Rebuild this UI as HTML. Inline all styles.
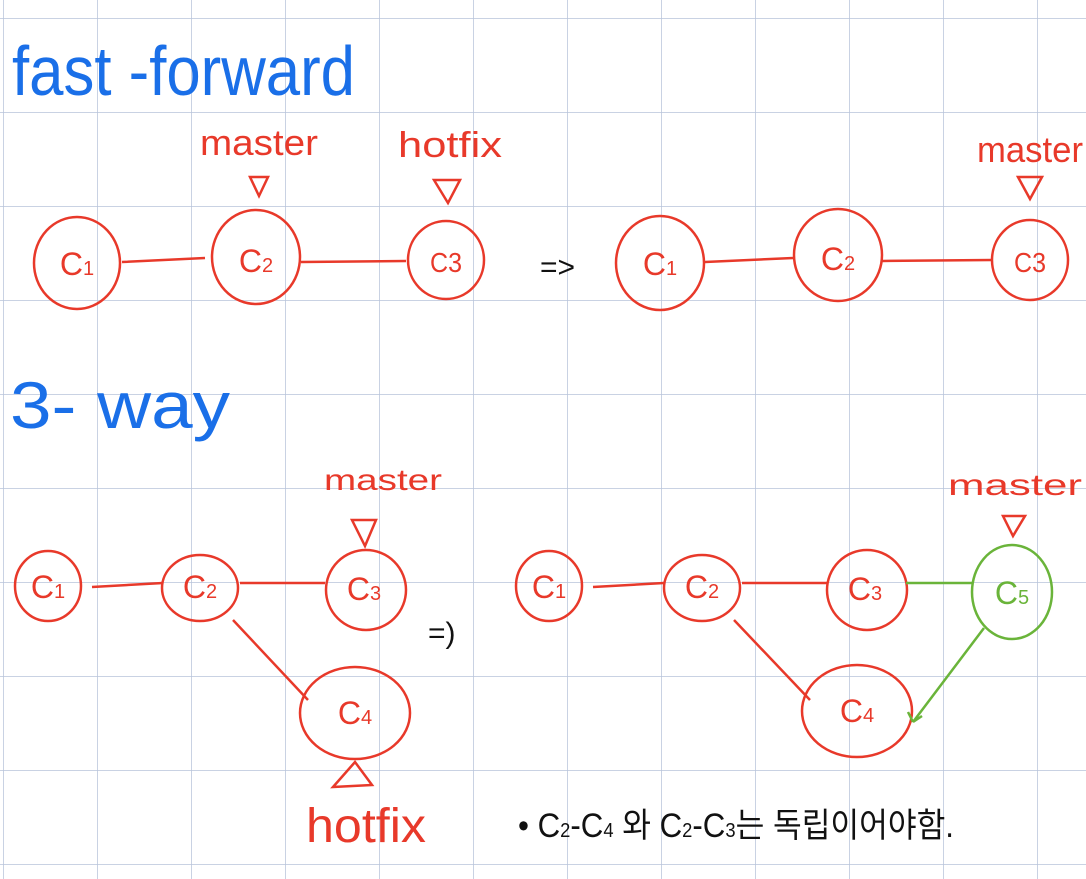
<!DOCTYPE html>
<html><head><meta charset="utf-8"><style>
html,body{margin:0;padding:0;background:#fff}
svg{display:block}
text{font-family:"Liberation Sans","Noto Sans CJK KR",sans-serif}
</style></head><body>
<svg width="1086" height="879" viewBox="0 0 1086 879" xmlns="http://www.w3.org/2000/svg">
<defs>
<pattern id="g" x="3" y="18" width="94" height="94" patternUnits="userSpaceOnUse">
<path d="M0 0V94M0 0H94" stroke="#b7c3da" stroke-width="1.5" fill="none"/>
</pattern>
</defs>
<rect width="1086" height="879" fill="url(#g)"/>
<g fill="none" stroke="#e8392a" stroke-width="2.5">
<ellipse cx="77" cy="263" rx="43" ry="46"/>
<ellipse cx="256" cy="257" rx="44" ry="47"/>
<ellipse cx="446" cy="260" rx="38" ry="39"/>
<path d="M122 262L205 258M301 262L406 261"/>
<path d="M250 177L268 177L259 196Z"/>
<path d="M434 180L460 180L448 203Z"/>
<ellipse cx="660" cy="263" rx="44" ry="47"/>
<ellipse cx="838" cy="255" rx="44" ry="46"/>
<ellipse cx="1030" cy="260" rx="38" ry="40"/>
<path d="M705 262L793 258M882 261L992 260"/>
<path d="M1018 177L1042 177L1030 199Z"/>
<ellipse cx="48" cy="586" rx="33" ry="35"/>
<ellipse cx="200" cy="588" rx="38" ry="33"/>
<ellipse cx="366" cy="590" rx="40" ry="40"/>
<ellipse cx="355" cy="713" rx="55" ry="46"/>
<path d="M92 587L163 583M240 583L325 583M233 620L308 700"/>
<path d="M352 520L376 520L365 546Z"/>
<path d="M333 787L372 785L355 762Z"/>
<ellipse cx="549" cy="586" rx="33" ry="35"/>
<ellipse cx="702" cy="588" rx="38" ry="33"/>
<ellipse cx="867" cy="590" rx="40" ry="40"/>
<ellipse cx="857" cy="711" rx="55" ry="46"/>
<path d="M593 587L664 583M742 583L828 583M734 620L810 700"/>
<path d="M1003 516L1025 516L1013 536Z"/>
</g>
<g fill="none" stroke="#6ab43a" stroke-width="2.5">
<ellipse cx="1012" cy="592" rx="40" ry="47"/>
<path d="M906 583L972 583M984 628L913 722M913 722L908 712M913 722L922 716"/>
</g>
<g fill="#e8392a" font-size="32" text-anchor="middle">
<text x="77" y="275">C<tspan font-size="20">1</tspan></text>
<text x="256" y="272">C<tspan font-size="20">2</tspan></text>
<text x="446" y="272" font-size="28" textLength="32" lengthAdjust="spacingAndGlyphs">C3</text>
<text x="660" y="275">C<tspan font-size="20">1</tspan></text>
<text x="838" y="270">C<tspan font-size="20">2</tspan></text>
<text x="1030" y="272" font-size="28" textLength="32" lengthAdjust="spacingAndGlyphs">C3</text>
<text x="48" y="598">C<tspan font-size="20">1</tspan></text>
<text x="200" y="598">C<tspan font-size="20">2</tspan></text>
<text x="364" y="600">C<tspan font-size="20">3</tspan></text>
<text x="355" y="724">C<tspan font-size="20">4</tspan></text>
<text x="549" y="598">C<tspan font-size="20">1</tspan></text>
<text x="702" y="598">C<tspan font-size="20">2</tspan></text>
<text x="865" y="600">C<tspan font-size="20">3</tspan></text>
<text x="857" y="722">C<tspan font-size="20">4</tspan></text>
</g>
<g fill="#e8392a" font-size="36">
<text x="200" y="155" textLength="118" lengthAdjust="spacingAndGlyphs">master</text>
<text x="398" y="157" textLength="104" lengthAdjust="spacingAndGlyphs">hotfix</text>
<text x="977" y="162" textLength="106" lengthAdjust="spacingAndGlyphs">master</text>
<text x="324" y="490" font-size="30" textLength="118" lengthAdjust="spacingAndGlyphs">master</text>
<text x="948" y="495" font-size="30" textLength="134" lengthAdjust="spacingAndGlyphs">master</text>
<text x="306" y="842" font-size="48" textLength="120" lengthAdjust="spacingAndGlyphs">hotfix</text>
</g>
<text x="1012" y="604" fill="#6ab43a" font-size="32" text-anchor="middle">C<tspan font-size="20">5</tspan></text>
<g fill="#1a6fe8">
<text x="12" y="95" font-size="70" textLength="343" lengthAdjust="spacingAndGlyphs">fast -forward</text>
<text x="10" y="428" font-size="66" textLength="220" lengthAdjust="spacingAndGlyphs">3- way</text>
</g>
<g fill="#111">
<text x="540" y="277" font-size="30">=&gt;</text>
<text x="428" y="643" font-size="30">=)</text>
<text x="518" y="837" font-size="34" textLength="436" lengthAdjust="spacingAndGlyphs">• C<tspan font-size="20">2</tspan>-C<tspan font-size="20">4</tspan> 와 C<tspan font-size="20">2</tspan>-C<tspan font-size="20">3</tspan>는 독립이어야함.</text>
</g>
</svg>
</body></html>
